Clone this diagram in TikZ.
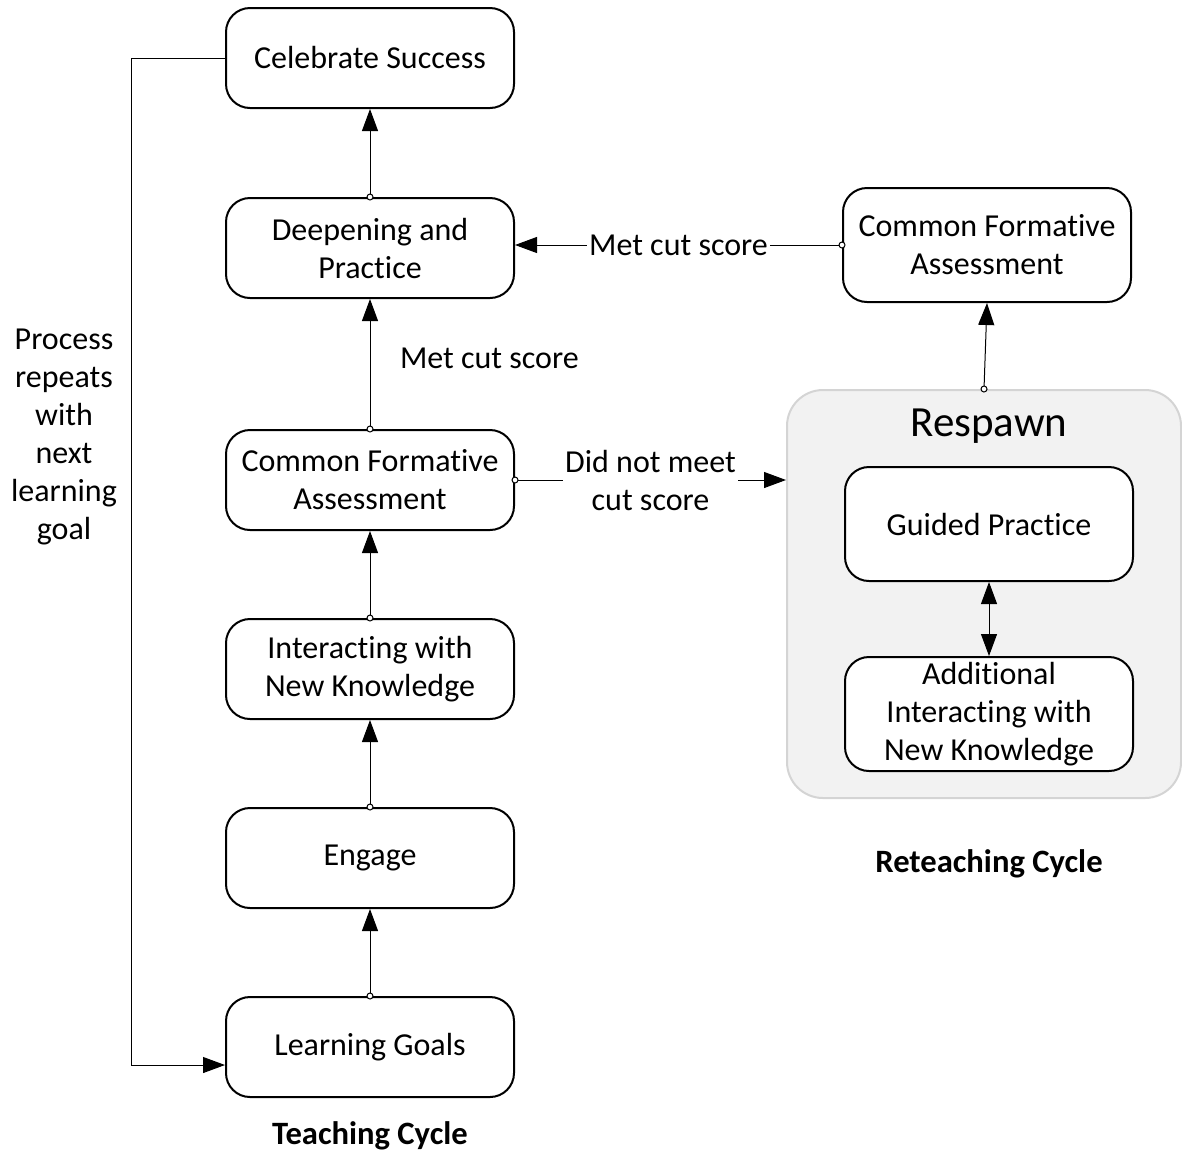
\documentclass[tikz,border=0pt]{standalone}
\usepackage{fontspec}
\setmainfont{Carlito}[Ligatures=NoCommon]
\usetikzlibrary{arrows.meta}

\definecolor{panelgray}{HTML}{F2F2F2}
\definecolor{panelline}{HTML}{D4D4D4}

\begin{document}
\begin{tikzpicture}[x=0.5pt, y=-0.5pt,
        box/.style={rectangle, rounded corners=12pt, draw, line width=1pt, fill=white,
            minimum width=144pt, minimum height=50pt, align=center, inner sep=2pt,
            font=\fontsize{16}{19}\selectfont},
        tallbox/.style={box, minimum height=57pt},
        link/.style={line width=0.5pt, shorten <=-1.75pt,
            {Circle[open, fill=white, length=3.5pt]}-{Triangle[length=11pt, width=8pt]}},
        lbl/.style={align=center, font=\fontsize{16}{19}\selectfont},
        cycle/.style={font=\bfseries\fontsize{16.3}{19}\selectfont}]
    \useasboundingbox (0, 0) rectangle (1182, 1152);

    % reteaching panel
    \node[rectangle, rounded corners=18pt, draw=panelline, line width=1pt, fill=panelgray,
        minimum width=197pt, minimum height=204pt] (respawn) at (984, 594) {};
    \node[font=\fontsize{21.5}{25}\selectfont] (title) at (989, 426) {Respawn};

    % teaching cycle
    \node[box] (celebrate) at (370, 58) {Celebrate Success};
    \node[box] (deepen) at (370, 248) {Deepening and\\Practice};
    \node[box] (cfa) at (370, 480) {Common Formative\\Assessment};
    \node[box] (interact) at (370, 669) {Interacting with\\New Knowledge};
    \node[box] (engage) at (370, 858) {Engage};
    \node[box] (goals) at (370, 1047) {Learning Goals};
    \node[cycle] (teaching) at (370, 1136) {Teaching Cycle};

    % reteaching cycle
    \node[tallbox] (cfatwo) at (987, 245) {Common Formative\\Assessment};
    \node[tallbox] (guided) at (989, 524) {Guided Practice};
    \node[tallbox] (additional) at (989, 714) {Additional\\Interacting with\\New Knowledge};
    \node[cycle] (reteaching) at (989, 864) {Reteaching Cycle};

    \draw[link] (goals) -- (engage);
    \draw[link] (engage) -- (interact);
    \draw[link] (interact) -- (cfa);
    \draw[link] (cfa) -- (deepen);
    \draw[link] (deepen) -- (celebrate);
    \node[lbl, anchor=west] (met) at (393, 358) {Met cut score};

    \draw[link] (cfa.east) -- node[lbl, fill=white, inner sep=1pt] (didnot) {Did not meet\\cut score} (respawn.west |- cfa.east);
    \draw[link] (respawn.north) -- (cfatwo.south);
    \draw[link] (cfatwo.west) -- node[lbl, fill=white, inner sep=1pt] (mettwo) {Met cut score} (deepen.east |- cfatwo.west);
    \draw[line width=0.5pt, {Triangle[length=11pt, width=8pt]}-{Triangle[length=11pt, width=8pt]}]
        (guided) -- (additional);

    % loop back
    \coordinate (loop) at (131, 1065);
    \draw[line width=0.5pt, -{Triangle[length=11pt, width=8pt]}]
        (celebrate.west) -| (loop) -- (goals.west |- loop);
    \node[lbl] (repeat) at (64, 437) {Process\\repeats\\with\\next\\learning\\goal};
\end{tikzpicture}
\end{document}
